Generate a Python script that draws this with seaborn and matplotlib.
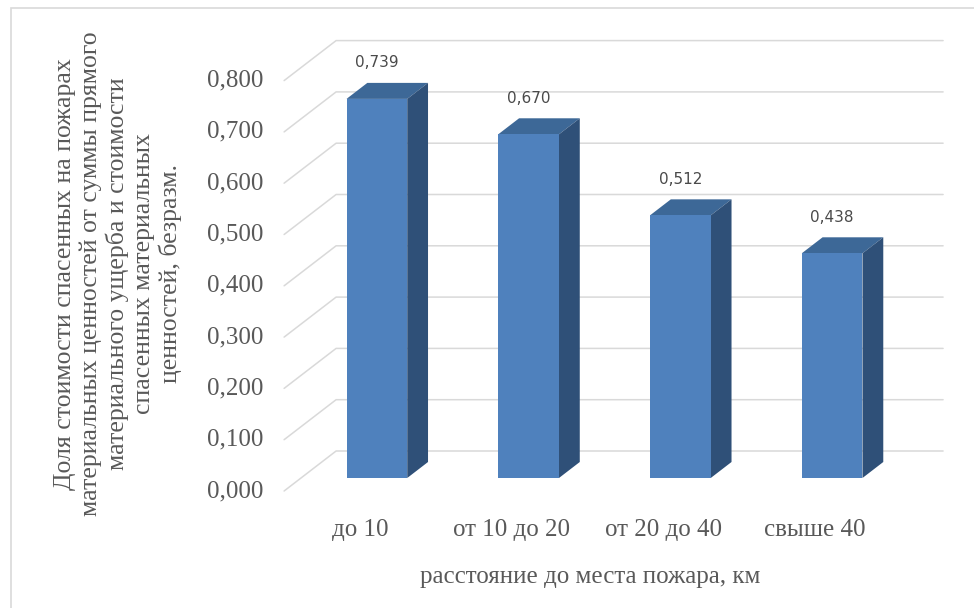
import matplotlib
matplotlib.use("Agg")
import matplotlib.pyplot as plt
import seaborn as sns
import pandas as pd
from matplotlib.patches import Polygon, Rectangle

# data
categories = ['до 10', 'от 10 до 20', 'от 20 до 40', 'свыше 40']
shares = [0.739, 0.670, 0.512, 0.438]
value_labels = ['0,739', '0,670', '0,512', '0,438']
y_ticks = [0.0, 0.1, 0.2, 0.3, 0.4, 0.5, 0.6, 0.7, 0.8]
y_tick_labels = ['0,000', '0,100', '0,200', '0,300', '0,400',
                 '0,500', '0,600', '0,700', '0,800']

df = pd.DataFrame({'distance': categories, 'share': shares})

sns.set_theme(style='white')
plt.rcParams['font.family'] = ['Liberation Serif', 'DejaVu Serif']

W, H = 974, 608
fig = plt.figure(figsize=(W / 100, H / 100), dpi=100)
fig.patch.set_facecolor('white')

# axes = front plane of the bars (x -0.5..3.5, y 0..0.8), in pixels
left_px, right_px, base_px, top_px = 301, 908, 478, 67.6
ax = fig.add_axes([left_px / W, (H - base_px) / H,
                   (right_px - left_px) / W, (base_px - top_px) / H])

sns.barplot(data=df, x='distance', y='share', width=0.4, color='#4f81bd',
            saturation=1, ax=ax, zorder=3)
ax.set_xlim(-0.5, 3.5)
ax.set_ylim(0, 0.8)
ax.axis('off')

# oblique depth vector of the whole chart, in data units
ppx = (right_px - left_px) / 4.0
ppy = (base_px - top_px) / 0.8
dx, dy = 52 / ppx, 40 / ppy
t_front = 0.325   # where the bars' front face sits in depth
t_depth = 0.40    # bar depth

grid_c = '#d9d9d9'
x_lo, x_hi = -0.5, 3.5
for v, lab in zip(y_ticks, y_tick_labels):
    fx, fy = x_lo - t_front * dx, v - t_front * dy
    bx, by = x_lo + (1 - t_front) * dx, v + (1 - t_front) * dy
    ax.plot([fx, bx, x_hi + (1 - t_front) * dx], [fy, by, by],
            color=grid_c, lw=1.1, clip_on=False, zorder=0)
    ax.text(fx - 21 / ppx, fy, lab, ha='right', va='center',
            fontsize=18, color='#595959', clip_on=False)

# 3d faces of the bars
for p, lab in zip(ax.patches, value_labels):
    p.set_clip_on(False)
    p.set_edgecolor('none')
    x0, w, h = p.get_x(), p.get_width(), p.get_height()
    ox, oy = t_depth * dx, t_depth * dy
    top = Polygon([(x0, h), (x0 + w, h), (x0 + w + ox, h + oy), (x0 + ox, h + oy)],
                  closed=True, facecolor='#3d6897', edgecolor='none',
                  clip_on=False, zorder=2)
    side = Polygon([(x0 + w, 0), (x0 + w + ox, oy), (x0 + w + ox, h + oy), (x0 + w, h)],
                   closed=True, facecolor='#2f5078', edgecolor='none',
                   clip_on=False, zorder=2)
    ax.add_patch(top)
    ax.add_patch(side)
    ax.text(x0 + w / 2, h + oy + 20 / ppy, lab, ha='center', va='center',
            fontsize=11, color='#4a4a4a', family='DejaVu Sans', clip_on=False)

# category labels on the front edge
for i, c in enumerate(categories):
    ax.text(i - t_front * dx, (base_px - 530) / ppy, c, ha='center', va='center',
            fontsize=18, color='#595959', clip_on=False)

fig.text(590 / W, 1 - 577 / H, 'расстояние до места пожара, км',
         ha='center', va='center', fontsize=18, color='#595959')

fig.text(118 / W, 1 - 274 / H,
         'Доля стоимости спасенных на пожарах\n'
         'материальных ценностей от суммы прямого\n'
         'материального ущерба и стоимости\n'
         'спасенных материальных\n'
         'ценностей, безразм.',
         ha='center', va='center', rotation=90, multialignment='center',
         fontsize=18.5, color='#595959', linespacing=1.2)

# chart area border (left and top edges visible)
fig.add_artist(Rectangle((10.5 / W, -0.05), 1.1, 1.05 - 8.5 / H,
                         transform=fig.transFigure,
                         facecolor='none', edgecolor='#d9d9d9', lw=1.2))

fig.savefig('out.png', dpi=100)
